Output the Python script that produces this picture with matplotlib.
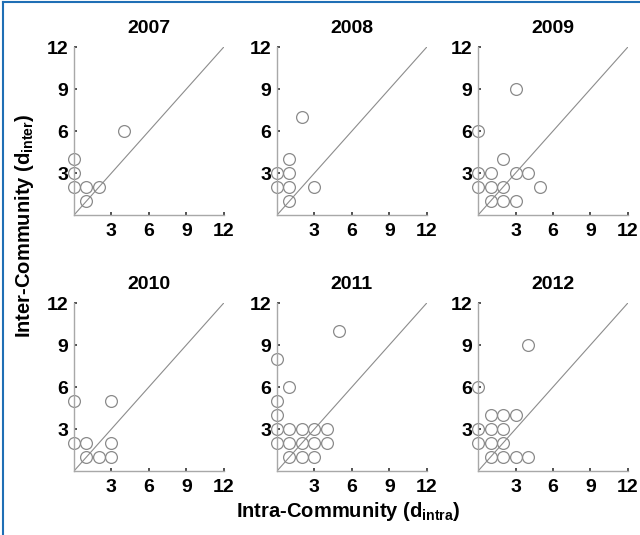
import matplotlib
matplotlib.use("Agg")
import matplotlib.pyplot as plt

plt.rcParams['font.family'] = 'Liberation Sans'
plt.rcParams['font.weight'] = 'bold'
plt.rcParams['mathtext.fontset'] = 'custom'
plt.rcParams['mathtext.rm'] = 'Liberation Sans'
plt.rcParams['mathtext.bf'] = 'Liberation Sans:bold'

years = ["2007", "2008", "2009", "2010", "2011", "2012"]

# (d_intra, d_inter) pairs per year
intra_2007 = [0, 0, 0, 1, 2, 1, 4]
inter_2007 = [4, 3, 2, 2, 2, 1, 6]

intra_2008 = [0, 0, 1, 1, 1, 1, 2, 3]
inter_2008 = [3, 2, 4, 3, 2, 1, 7, 2]

intra_2009 = [0, 0, 0, 1, 1, 1, 2, 2, 2, 3, 3, 3, 4, 5]
inter_2009 = [6, 3, 2, 3, 2, 1, 4, 2, 1, 9, 3, 1, 3, 2]

intra_2010 = [0, 0, 1, 1, 2, 3, 3, 3]
inter_2010 = [5, 2, 2, 1, 1, 5, 2, 1]

intra_2011 = [0, 0, 0, 0, 0, 1, 1, 1, 1, 2, 2, 2, 3, 3, 3, 4, 4, 5]
inter_2011 = [8, 5, 4, 3, 2, 6, 3, 2, 1, 3, 2, 1, 3, 2, 1, 3, 2, 10]

intra_2012 = [0, 0, 0, 1, 1, 1, 1, 2, 2, 2, 2, 3, 3, 4, 4]
inter_2012 = [6, 3, 2, 4, 3, 2, 1, 4, 3, 2, 1, 4, 1, 9, 1]

intra = [intra_2007, intra_2008, intra_2009, intra_2010, intra_2011, intra_2012]
inter = [inter_2007, inter_2008, inter_2009, inter_2010, inter_2011, inter_2012]

ticks = [3, 6, 9, 12]

fig = plt.figure(figsize=(6.4, 5.35), dpi=100)

lefts = [0.1156, 0.4328, 0.747]
bottoms = [0.598, 0.1196]
w, h = 0.234, 0.314

for i, yr in enumerate(years):
    ax = fig.add_axes([lefts[i % 3], bottoms[i // 3], w, h])
    ax.plot([0, 12], [0, 12], color='#8c8c8c', lw=0.8)
    ax.plot(intra[i], inter[i], 'o', ms=8.5, mfc='none', mec='#8a8a8a',
            mew=0.9, clip_on=False)
    ax.set_xlim(0, 12)
    ax.set_ylim(0, 12)
    ax.set_xticks(ticks)
    ax.set_yticks(ticks)
    ax.tick_params(direction='in', length=2.5, width=1.2, color='#333333',
                   labelsize=14, pad=4)
    ax.tick_params(axis='x', pad=6)
    for lab in ax.get_xticklabels() + ax.get_yticklabels():
        lab.set_fontweight('bold')
    for s in ['top', 'right']:
        ax.spines[s].set_visible(False)
    for s in ['left', 'bottom']:
        ax.spines[s].set_color('#a8a8a8')
        ax.spines[s].set_linewidth(1.0)
    ax.set_title(yr, fontsize=14, fontweight='bold', pad=10)

fig.text(0.038, 0.578, r'Inter-Community (d$_{\mathbf{inter}}$)', rotation=90,
         ha='center', va='center', fontsize=14.5, fontweight='bold')
fig.text(0.545, 0.043, r'Intra-Community (d$_{\mathbf{intra}}$)',
         ha='center', va='center', fontsize=14.5, fontweight='bold')

# frame lines along the top and left edge
fig.add_artist(plt.Line2D([0.004, 1.0], [0.996, 0.996], color='#1f6fb5',
                          lw=1.5, transform=fig.transFigure))
fig.add_artist(plt.Line2D([0.0045, 0.0045], [0.0, 0.996], color='#1f6fb5',
                          lw=1.5, transform=fig.transFigure))

fig.savefig("out.png", dpi=100)
